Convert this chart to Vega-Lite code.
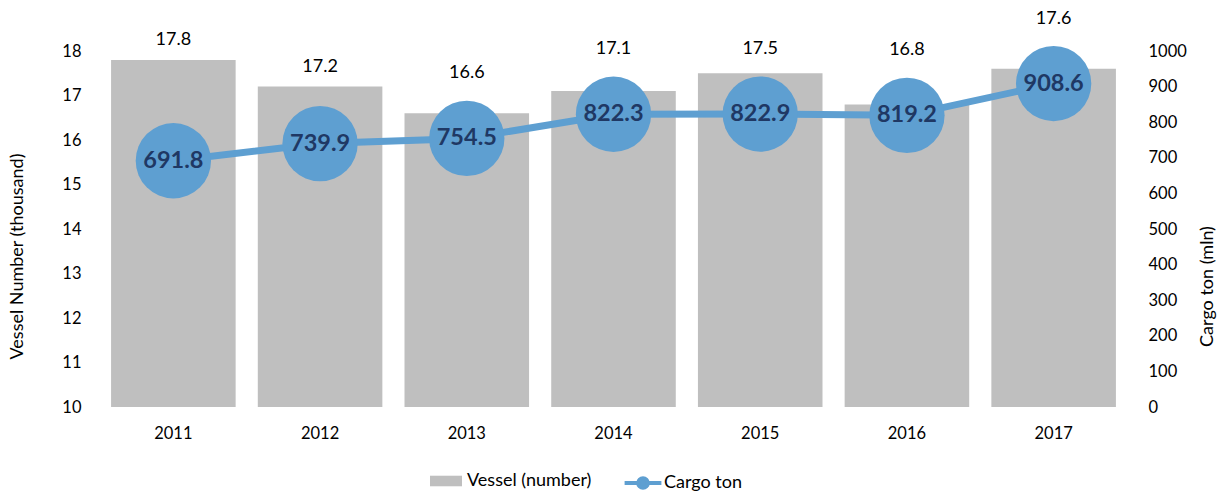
{
  "$schema": "https://vega.github.io/schema/vega-lite/v6.json",
  "width": 1027,
  "height": 356,
  "autosize": {"type": "none"},
  "padding": {"left": 100, "top": 51, "right": 102, "bottom": 85},
  "config": {
    "font": "Lato",
    "view": {"stroke": null},
    "axis": {"grid": false, "domain": false, "ticks": false, "labelFontSize": 16.5, "titleFontSize": 18, "titleFontWeight": "normal", "labelColor": "#000000", "titleColor": "#000000", "labelFont": "Lato", "titleFont": "Lato"}
  },
  "data": {"values": [
    {"year": "2011", "vessel": 17.8, "cargo": 691.8},
    {"year": "2012", "vessel": 17.2, "cargo": 739.9},
    {"year": "2013", "vessel": 16.6, "cargo": 754.5},
    {"year": "2014", "vessel": 17.1, "cargo": 822.3},
    {"year": "2015", "vessel": 17.5, "cargo": 822.9},
    {"year": "2016", "vessel": 16.8, "cargo": 819.2},
    {"year": "2017", "vessel": 17.6, "cargo": 908.6}
  ]},
  "encoding": {
    "x": {"field": "year", "type": "ordinal", "scale": {"paddingInner": 0.151, "paddingOuter": 0.0755}, "axis": {"title": null, "labelAngle": 0, "labelPadding": 18}}
  },
  "layer": [
    {
      "encoding": {
        "y": {"field": "vessel", "type": "quantitative", "scale": {"domain": [10, 18], "zero": false, "nice": false}, "axis": {"orient": "left", "title": "Vessel Number (thousand)", "values": [10, 11, 12, 13, 14, 15, 16, 17, 18], "labelPadding": 19, "titlePadding": 35, "titleY": 205}}
      },
      "layer": [
        {
          "mark": {"type": "bar", "color": "#bfbfbf"},
          "encoding": {
            "y2": {"datum": 10},
            "fill": {"datum": "Vessel (number)", "type": "nominal", "scale": {"range": ["#bfbfbf"]}, "legend": {"title": null, "orient": "none", "legendX": 330, "legendY": 414, "labelFontSize": 18, "labelFont": "Lato", "labelColor": "#000000", "symbolType": "M-1,-0.33H1V0.33H-1Z", "symbolSize": 1024, "symbolStrokeWidth": 0, "labelOffset": 5}}
          }
        },
        {
          "transform": [{"filter": {"field": "year", "oneOf": ["2011", "2012"]}}],
          "mark": {"type": "text", "dy": -20, "fontSize": 18, "font": "Lato", "color": "#000000"},
          "encoding": {"text": {"field": "vessel", "type": "quantitative", "format": ".1f"}}
        }
      ]
    },
    {
      "encoding": {
        "y": {"field": "cargo", "type": "quantitative", "scale": {"domain": [0, 1000], "zero": false, "nice": false}, "axis": {"orient": "right", "title": "Cargo ton (mln)", "format": "d", "values": [0, 100, 200, 300, 400, 500, 600, 700, 800, 900, 1000], "labelPadding": 21, "titlePadding": 30, "titleAngle": -90, "titleY": 235}}
      },
      "layer": [
        {
          "mark": {"type": "line", "strokeWidth": 7},
          "encoding": {
            "stroke": {"datum": "Cargo ton", "type": "nominal", "scale": {"range": ["#5e9fd1"]}, "legend": {"title": null, "orient": "none", "legendX": 525, "legendY": 414, "labelFontSize": 18, "labelFont": "Lato", "labelColor": "#000000", "symbolType": "M-1.15,0H-0.3M0.3,0H1.15M-0.3,0A0.3,0.3 0 1,1 0.3,0A0.3,0.3 0 1,1 -0.3,0Z", "symbolSize": 1024, "symbolStrokeWidth": 4, "symbolFillColor": "#5e9fd1", "labelOffset": 3}}
          }
        },
        {
          "mark": {"type": "point", "filled": true, "opacity": 1, "size": 5674, "color": "#5e9fd1"}
        },
        {
          "mark": {"type": "text", "fontSize": 23.5, "fontWeight": "bold", "font": "Lato", "color": "#1f3864"},
          "encoding": {"text": {"field": "cargo", "type": "quantitative", "format": ".1f"}}
        },
        {
          "transform": [{"filter": {"field": "year", "oneOf": ["2013", "2014", "2015", "2016", "2017"]}}],
          "mark": {"type": "text", "dy": -65, "fontSize": 18, "font": "Lato", "color": "#000000"},
          "encoding": {"text": {"field": "vessel", "type": "quantitative", "format": ".1f"}}
        }
      ]
    }
  ],
  "resolve": {"scale": {"y": "independent"}}
}
